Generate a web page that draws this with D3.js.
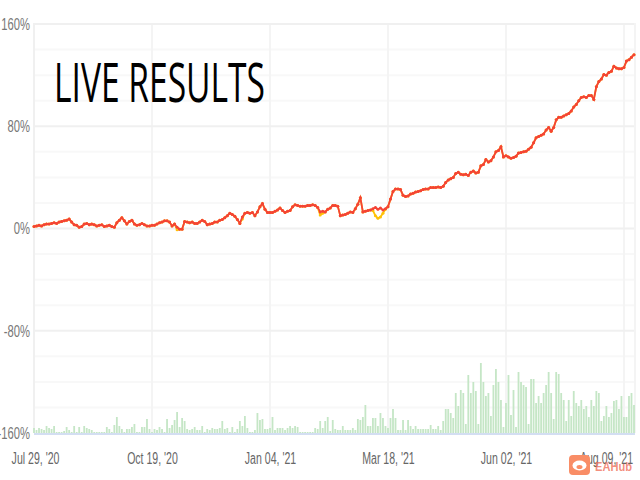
<!DOCTYPE html>
<html>
<head>
<meta charset="utf-8">
<script src="https://cdn.jsdelivr.net/npm/d3@7"></script>
<style>
html, body { margin: 0; padding: 0; background: #fff; overflow: hidden; }
text { font-family: "Liberation Sans Narrow", "Liberation Sans", sans-serif; }
</style>
</head>
<body>
<div id="chart"></div>
<script>
// growth in percent, one value per trading day
var growth = [
    1.5, 2, 2.5, 2, 3, 3.5, 3.5, 4, 4.5, 4,
    5, 5.5, 6, 6.5, 7.5, 5, 3, 2.5, 1, 1.5,
    3.5, 4, 3, 3.5, 3, 2, 2.5, 3, 1.5, 2,
    2.5, 1.5, 1, 4.5, 6.5, 8.5, 6, 3.5, 5.5, 6.5,
    3.5, 2.5, 3, 4, 3, 2, 2, 2.5, 2.5, 3.5,
    4.5, 5, 6, 6, 5, 2, 3.5, 1, -0.5, -0.5,
    5.5, 5, 4.5, 5, 4, 4, 5, 6.5, 5.5, 3,
    3.5, 4, 5, 5, 6.5, 7, 8.5, 10, 12, 11,
    9.5, 7, 4, 9, 12, 12.5, 12, 12.5, 10, 13,
    17, 19.5, 15, 12.5, 12.5, 12.5, 13.5, 14.5, 16, 14,
    12.5, 13.5, 14, 17, 18.5, 18, 17.5, 17.5, 17.5, 18,
    18, 18.5, 18, 16.5, 13, 13.5, 13, 15, 16, 18,
    18, 17.5, 10, 10.5, 11, 12, 13, 12.5, 15.5, 19,
    24, 13, 13.5, 14, 14.5, 15.5, 16.5, 15, 16, 14.5,
    15.5, 17, 23, 29, 31, 31, 30.5, 26, 25, 25.5,
    27, 27.5, 28.5, 29, 29.5, 30.5, 31, 31, 32, 32,
    32, 32.5, 32, 33, 36, 38, 39, 40, 43, 44,
    42.5, 42, 42.5, 41.5, 44, 45, 43.5, 44, 49, 50,
    54, 52, 53, 56, 60, 61, 64, 56, 57, 56,
    55, 55.5, 56.5, 59, 59.5, 60, 60.5, 62, 63.5, 67,
    71, 72, 73, 74, 77, 79, 76, 79, 85, 87,
    87, 88, 89, 90, 92, 95, 97, 100, 102.5, 103,
    102.5, 104, 104, 101, 111, 115, 117, 120.5, 120, 122,
    123, 127, 125.5, 125, 125, 126, 131, 132, 134, 136
];

// the orange line runs under the red one and only shows where it drops lower
var dipDays = [114, 115, 135, 136, 137, 138, 139, 140, 83, 57];
var dipValues = [10.5, 12, 14, 10, 8, 9, 12, 15, 7.5, -1];

// bars at the bottom of the chart
var volume = [
    5, 3, 5, 4, 3, 7, 5, 4, 7, 1,
    1, 1, 2, 6, 3, 1, 7, 1, 6, 1,
    7, 5, 4, 3, 1, 1, 1, 1, 1, 6,
    4, 1, 8, 16, 7, 4, 1, 4, 4, 6,
    9, 1, 1, 6, 6, 14, 4, 1, 4, 3,
    6, 4, 1, 14, 5, 8, 13, 21, 6, 15,
    12, 4, 3, 4, 6, 3, 3, 7, 1, 4,
    3,
    5, 4, 4, 5, 12, 4, 5, 1, 6, 1,
    4, 12, 7, 17, 5, 1, 1, 3, 20, 13,
    14, 4, 4, 5, 16, 3, 5, 5, 5, 3,
    5, 7, 5, 7, 6, 1, 1, 1, 1, 1,
    1, 5, 4, 12, 5, 12, 16, 2, 13, 4,
    3, 3, 7, 3, 3, 3, 5, 3, 14, 13,
    16, 28, 7, 7, 15, 15, 7, 20, 15, 7,
    5, 15, 24, 15, 3, 3, 13, 3, 13, 7,
    4, 7, 4, 4,
    4, 4, 4, 8, 4, 4, 7, 3, 12, 24,
    24, 20, 15, 40, 27, 43, 40, 9, 58, 40,
    51, 42, 9, 70, 51, 37, 40, 17, 48, 64,
    51, 33, 6, 30, 58, 18, 43, 6, 61, 51,
    48, 46, 9, 54, 54, 30, 37, 30, 40, 48,
    61, 40, 14, 61, 59, 40, 33, 12, 33, 17,
    42, 30, 27, 33, 24, 27, 16, 33, 27, 42,
    40, 12, 17, 27, 16, 20, 32, 33, 24, 37,
    16, 16, 37, 40, 28
];

var dateDays = [47, 94, 141, 188, 235];
var dateLabels = ["Oct 19, '20", "Jan 04, '21", "Mar 18, '21", "Jun 02, '21", "Aug 09, '21"];
var firstDate = "Jul 29, '20";
var yTicks = [-160, -80, 0, 80, 160];
var yMinor = [-140, -120, -100, -60, -40, -20, 20, 40, 60, 100, 120, 140];

var balance = growth.slice();
dipDays.forEach(function (d, i) {
    balance[d] = dipValues[i];
});

var svg = d3.select("#chart").append("svg")
    .attr("width", 640)
    .attr("height", 480)
    .style("display", "block");

var xscale = d3.scaleLinear().domain([0, 239]).range([34, 634]);
var yscale = d3.scaleLinear().domain([-160, 160]).range([433, 24]);
var vscale = d3.scaleLinear().domain([0, 70]).range([433, 363]);

// squeeze the tick text, the reference is drawn very narrow
function squeeze(selection, ratio) {
    selection.each(function () {
        var len = this.getComputedTextLength();
        d3.select(this)
            .attr("textLength", len * ratio)
            .attr("lengthAdjust", "spacingAndGlyphs");
    });
}

//grid
svg.append("g").selectAll("line").data(yMinor).enter().append("line")
    .attr("x1", 34).attr("x2", 635)
    .attr("y1", function (d) { return yscale(d); })
    .attr("y2", function (d) { return yscale(d); })
    .attr("stroke", "#f8f8f8")
    .attr("stroke-width", 2);

svg.append("g").selectAll("line").data(dateDays).enter().append("line")
    .attr("x1", function (d) { return xscale(d); })
    .attr("x2", function (d) { return xscale(d); })
    .attr("y1", 24).attr("y2", 433)
    .attr("stroke", "#f4f4f4")
    .attr("stroke-width", 2);

svg.append("g").selectAll("line").data(yTicks.slice(1)).enter().append("line")
    .attr("x1", 34).attr("x2", 635)
    .attr("y1", function (d) { return yscale(d); })
    .attr("y2", function (d) { return yscale(d); })
    .attr("stroke", "#f0f0f0")
    .attr("stroke-width", 2);

svg.append("line").attr("x1", 34).attr("x2", 34).attr("y1", 23).attr("y2", 433)
    .attr("stroke", "#f0f0f0").attr("stroke-width", 2);
svg.append("line").attr("x1", 635).attr("x2", 635).attr("y1", 23).attr("y2", 433)
    .attr("stroke", "#f4f4f4").attr("stroke-width", 2);

//bars
svg.append("g").selectAll("rect").data(volume).enter().append("rect")
    .attr("x", function (d, i) { return xscale(i) - 0.9; })
    .attr("y", function (d) { return vscale(d); })
    .attr("width", 1.8)
    .attr("height", function (d) { return vscale(0) - vscale(d); })
    .attr("fill", "#c5e6c6");

svg.append("line").attr("x1", 34).attr("x2", 635).attr("y1", 434).attr("y2", 434)
    .attr("stroke", "#d3def2").attr("stroke-width", 2);

//lines, each point also gets a small dot
var line = d3.line()
    .x(function (d, i) { return xscale(i); })
    .y(function (d) { return yscale(d); });

function drawSeries(values, color) {
    svg.append("path").datum(values)
        .attr("d", line)
        .attr("fill", "none")
        .attr("stroke", color)
        .attr("stroke-width", 1.8);
    svg.append("g").selectAll("circle").data(values).enter().append("circle")
        .attr("cx", function (d, i) { return xscale(i); })
        .attr("cy", function (d) { return yscale(d); })
        .attr("r", 1.5)
        .attr("fill", color);
}
drawSeries(balance, "#ffc107");
drawSeries(growth, "#f44336");

//axes
var yAxis = d3.axisLeft(yscale)
    .tickValues(yTicks)
    .tickSize(0)
    .tickPadding(4)
    .tickFormat(function (d) { return (d < 0 ? "-" : "") + Math.abs(d) + "%"; });

var yg = svg.append("g").attr("transform", "translate(34,0)").call(yAxis);
yg.select(".domain").remove();
yg.selectAll("text")
    .attr("fill", "#777")
    .style("font-size", "17px")
    .call(squeeze, 0.66);

var allDays = [0].concat(dateDays);
var allLabels = [firstDate].concat(dateLabels);
var xAxis = d3.axisBottom(xscale)
    .tickValues(allDays)
    .tickSize(0)
    .tickFormat(function (d, i) { return allLabels[i]; });

var xg = svg.append("g").attr("transform", "translate(0,450)").call(xAxis);
xg.select(".domain").remove();
xg.selectAll("text")
    .attr("fill", "#666")
    .attr("dy", "0.71em")
    .attr("y", 3)
    .style("font-size", "16px")
    .attr("dx", function (d) {
        return d == 235 ? -18 : (d == 0 ? 1 : 0);
    })
    .call(squeeze, 0.66);

//title
svg.append("text")
    .attr("x", 54)
    .attr("y", 102)
    .attr("textLength", 211)
    .attr("lengthAdjust", "spacingAndGlyphs")
    .style("font-family", "'Open Sans', sans-serif")
    .style("font-size", "55px")
    .attr("fill", "#000")
    .text("LIVE RESULTS");

//watermark
var mark = svg.append("g");
mark.append("rect")
    .attr("x", 569).attr("y", 455)
    .attr("width", 21).attr("height", 20)
    .attr("rx", 4)
    .attr("fill", "#f98d66");
mark.append("ellipse")
    .attr("cx", 579.5).attr("cy", 465.5)
    .attr("rx", 7).attr("ry", 5)
    .attr("fill", "#fff");
mark.append("ellipse")
    .attr("cx", 579.5).attr("cy", 467)
    .attr("rx", 3).attr("ry", 2)
    .attr("fill", "#f98d66");
mark.append("text")
    .attr("x", 595)
    .attr("y", 471)
    .attr("textLength", 37)
    .attr("lengthAdjust", "spacingAndGlyphs")
    .style("font-family", "'Liberation Sans', sans-serif")
    .style("font-size", "12px")
    .style("font-weight", "bold")
    .attr("fill", "#f0705a")
    .attr("fill-opacity", 0.8)
    .text("EAHub");
</script>
</body>
</html>
